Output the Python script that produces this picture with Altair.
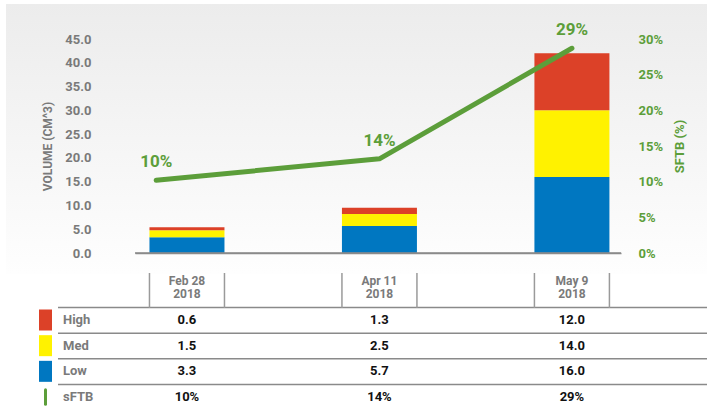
import altair as alt
import pandas as pd

# ---- data ----
dates = ["Feb 28\n2018", "Apr 11\n2018", "May 9\n2018"]
levels = ["High", "Med", "Low"]
high = [0.6, 1.3, 12.0]
med = [1.5, 2.5, 14.0]
low = [3.3, 5.7, 16.0]
sftb = [10, 14, 29]                 # sFTB values (%) shown in labels / table
sftb_line = [10.2, 13.2, 28.7]      # sFTB line as drawn (%)
sftb_line_pos = [-0.16, 1.0, 2.0]   # category position of line vertices
rows = ["High", "Med", "Low", "sFTB"]

RED, YELLOW, BLUE, GREEN = "#dc4128", "#fff200", "#0077c1", "#5c9e3a"
GRAY = "#7a7a7a"
FONT = "Roboto"

# ---- tables ----
bars = []
for i, d in enumerate(dates):
    for lev, vals, o in (("Low", low, 0), ("Med", med, 1), ("High", high, 2)):
        bars.append({"pos": i, "date": d, "level": lev, "value": vals[i], "ord": o})
bars_df = pd.DataFrame(bars)

line_df = pd.DataFrame({"pos": sftb_line_pos, "val": sftb_line,
                        "label": [f"{v}%" for v in sftb]})

cells = []
for i in range(len(dates)):
    cells.append({"pos": i, "row": "High", "text": f"{high[i]:.1f}"})
    cells.append({"pos": i, "row": "Med", "text": f"{med[i]:.1f}"})
    cells.append({"pos": i, "row": "Low", "text": f"{low[i]:.1f}"})
    cells.append({"pos": i, "row": "sFTB", "text": f"{sftb[i]}%"})
cells_df = pd.DataFrame(cells)

rows_df = pd.DataFrame({"row": rows})
header_df = pd.DataFrame({"pos": list(range(len(dates))), "date": dates})

xscale = alt.Scale(domain=[-0.27, 2.255], nice=False, zero=False, padding=0)
color_scale = alt.Scale(domain=rows, range=[RED, YELLOW, BLUE, GREEN])
row_scale = alt.Scale(type="point", domain=rows, range=[281, 358], padding=0)

x_axis = alt.Axis(title=None, labels=False, ticks=False, grid=False,
                  domainColor="#8a8a8a", domainWidth=1.5, zindex=2)
x_enc = alt.X("pos:Q", scale=xscale, axis=x_axis)
y_row = alt.Y("row:N", scale=row_scale, axis=None)

# ---- background gradient ----
bg = alt.Chart(pd.DataFrame({"a": [0]})).mark_rect(
    color=alt.Gradient(gradient="linear",
                       stops=[alt.GradientStop(color="#ececec", offset=0),
                              alt.GradientStop(color="#fefefe", offset=1)],
                       x1=0, x2=0, y1=0, y2=1)
).encode(x=alt.value(-129), x2=alt.value(572), y=alt.value(-35), y2=alt.value(235))

# ---- stacked bars ----
bar = alt.Chart(bars_df).mark_bar(size=75, orient="vertical").encode(
    x=x_enc,
    y=alt.Y("value:Q", stack="zero", scale=alt.Scale(domain=[0, 45], nice=False),
            axis=alt.Axis(values=list(range(0, 50, 5)), format=".1f",
                          title="VOLUME (CM^3)", labelColor=GRAY, labelFont=FONT,
                          labelFontSize=13, labelFontWeight="bold", labelPadding=44,
                          labelFlush=False, ticks=False, domain=False, grid=False,
                          titleColor=GRAY, titleFont=FONT, titleFontSize=12,
                          titleFontWeight="bold", titlePadding=10, zindex=2)),
    color=alt.Color("level:N", scale=color_scale, legend=None),
    order=alt.Order("ord:Q", sort="ascending"),
)

# baseline (x axis line)
baseline = alt.Chart(pd.DataFrame({"v": [0]})).mark_rule(
    color="#8a8a8a", strokeWidth=1.5
).encode(x=alt.value(0), x2=alt.value(486),
         y=alt.Y("v:Q", scale=alt.Scale(domain=[0, 45], nice=False), axis=None))

# ---- sFTB line ----
line = alt.Chart(line_df).mark_line(color=GREEN, strokeWidth=5, strokeCap="round",
                                    strokeJoin="round").encode(
    x=x_enc,
    y=alt.Y("val:Q", scale=alt.Scale(domain=[0, 30], nice=False),
            axis=alt.Axis(orient="right", values=list(range(0, 35, 5)),
                          labelExpr="datum.value + '%'", labelColor=GREEN,
                          labelFont=FONT, labelFontSize=13, labelFontWeight="bold",
                          labelPadding=17, labelFlush=False, ticks=False,
                          domain=False, grid=False, title="SFTB (%)",
                          titleColor=GREEN, titleFont=FONT, titleFontSize=13,
                          titleFontWeight="bold", titleAngle=270, titlePadding=24,
                          zindex=2)),
)

line_labels = alt.Chart(line_df).mark_text(
    dy=-18, font=FONT, fontSize=17, fontWeight="bold", color=GREEN
).encode(
    x=x_enc,
    y=alt.Y("val:Q", scale=alt.Scale(domain=[0, 30], nice=False), axis=None),
    text="label:N",
)

# ---- table ----
hrules = alt.Chart(rows_df).mark_rule(color="#8a8a8a", strokeWidth=1.5, yOffset=-12.5).encode(
    x=alt.value(-77), x2=alt.value(572), y=y_row)

vrule_l = alt.Chart(header_df).mark_rule(color="#9a9a9a", strokeWidth=1.5, xOffset=-37.5).encode(
    x=x_enc, y=alt.value(234), y2=alt.value(269))
vrule_r = alt.Chart(header_df).mark_rule(color="#9a9a9a", strokeWidth=1.5, xOffset=37.5).encode(
    x=x_enc, y=alt.value(234), y2=alt.value(269))

header = alt.Chart(header_df).mark_text(
    lineBreak="\n", font=FONT, fontSize=12, fontWeight="bold", color=GRAY,
    lineHeight=13, baseline="middle"
).encode(x=x_enc, y=alt.value(242), text="date:N")

row_labels = alt.Chart(rows_df).mark_text(
    align="left", font=FONT, fontSize=13, fontWeight="bold", color=GRAY
).encode(x=alt.value(-72), y=y_row, text="row:N")

swatches = alt.Chart(rows_df[rows_df.row != "sFTB"]).mark_point(
    shape="M-0.62,-1H0.62V1H-0.62Z", filled=True, opacity=1, size=441
).encode(x=alt.value(-89.5), y=y_row,
         color=alt.Color("row:N", scale=color_scale, legend=None))

swatch_line = alt.Chart(rows_df[rows_df.row == "sFTB"]).mark_point(
    shape="M0,-0.68V0.68", filled=False, opacity=1, size=441, strokeWidth=3,
    strokeCap="round", color=GREEN
).encode(x=alt.value(-89.5), y=y_row)

values = alt.Chart(cells_df).mark_text(
    font=FONT, fontSize=13, fontWeight="bold", color="#111111"
).encode(x=x_enc, y=y_row, text="text:N")

chart = alt.layer(
    bg, bar, baseline, line, line_labels, hrules, vrule_l, vrule_r, header,
    row_labels, swatches, swatch_line, values
).resolve_scale(y="independent").properties(
    width=486, height=214,
    autosize=alt.AutoSizeParams(type="none"),
    padding={"left": 135, "top": 39, "right": 86, "bottom": 155},
    background="white",
).configure_view(stroke=None)

chart.save("out.html", embed_options={"renderer": "svg", "actions": False})
